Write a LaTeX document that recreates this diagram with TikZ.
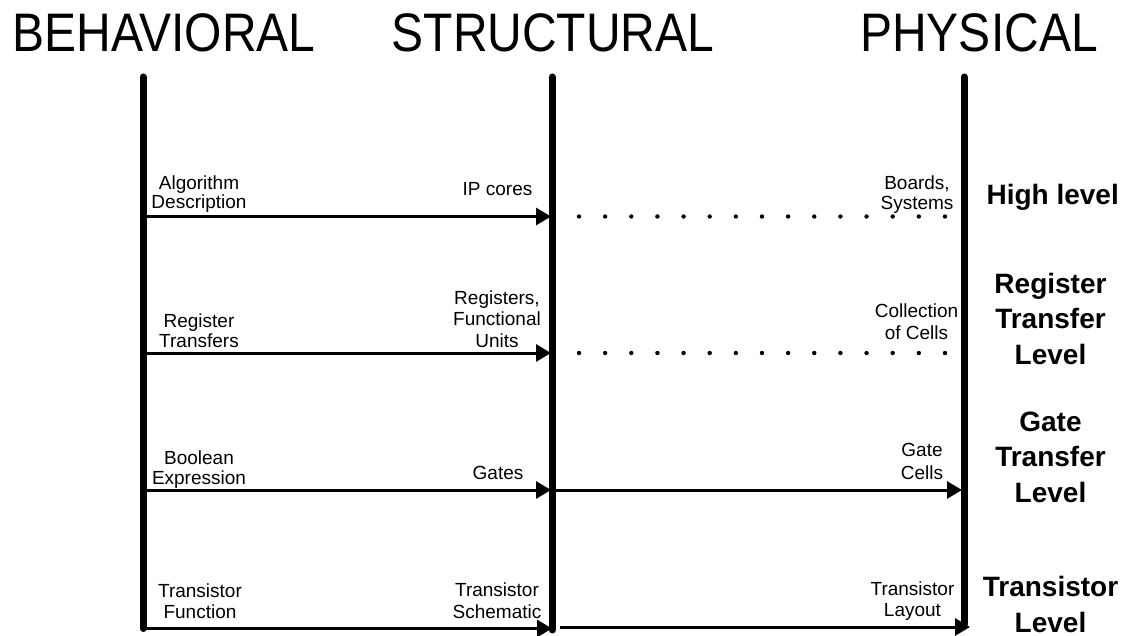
\documentclass[tikz,border=0pt]{standalone}
\usepackage{fontspec}
\setmainfont{Liberation Sans}
\usetikzlibrary{arrows.meta}
\begin{document}
\begin{tikzpicture}[x=1pt,y=-1pt,
  axis/.style={line width=7pt, line cap=round},
  flow/.style={line width=3pt, -{Triangle[length=15pt,width=17pt]}},
  dots/.style={line width=4.4pt, line cap=round, dash pattern=on 0pt off 26.14pt},
  title/.style={font=\fontsize{48}{58}\selectfont, anchor=base, inner sep=0pt},
  lbl/.style={font=\fontsize{19}{#1}\selectfont, align=center, anchor=base, inner sep=0pt},
  lbl/.default=20,
  lvl/.style={font=\fontsize{28}{35.5}\selectfont\bfseries, align=center, anchor=base, inner sep=0pt}]
\useasboundingbox (0,0) rectangle (1131,636);

% column headings
\node[title] (hb) at (164,51.5) {\scalebox{1}[1.13]{BEHAVIORAL}};
\node[title] (hs) at (553,51.5) {\scalebox{1}[1.13]{STRUCTURAL}};
\node[title] (hp) at (979,51.5) {\scalebox{1}[1.13]{PHYSICAL}};

% the three domain axes
\coordinate (btop) at (143,77);  \coordinate (bbot) at (143,628.5);
\coordinate (stop) at (552,77);  \coordinate (sbot) at (552,630);
\coordinate (ptop) at (964,77);  \coordinate (pbot) at (964,624);
\draw[axis] (btop) -- (bbot);
\draw[axis] (stop) -- (sbot);
\draw[axis] (ptop) -- (pbot);

% end points of the level connectors
\coordinate (b1) at (146.5,216.5); \coordinate (s1) at (551,216.5);
\coordinate (d1) at (579,216.5);   \coordinate (p1) at (945.5,216.5);
\coordinate (b2) at (146.5,353);   \coordinate (s2) at (551,353);
\coordinate (d2) at (579,353);     \coordinate (p2) at (945.5,353);
\coordinate (b3) at (146.5,490);   \coordinate (s3) at (551,490);
\coordinate (s3r) at (555.5,490);  \coordinate (p3) at (962,490);
\coordinate (b4) at (143,628.5);   \coordinate (s4) at (552,628.5);
\coordinate (s4r) at (560,627);    \coordinate (p4) at (970,627);

\draw[flow] (b1) -- (s1);
\draw[dots] (d1) -- (p1);
\draw[flow] (b2) -- (s2);
\draw[dots] (d2) -- (p2);
\draw[flow] (b3) -- (s3);
\draw[flow] (s3r) -- (p3);
\draw[flow] (b4) -- (s4);
\draw[flow] (s4r) -- (p4);

% labels are placed by the baseline of their last line
% high level
\node[lbl=19.3] (la1) at (199,209) {Algorithm\\Description};
\node[lbl] (la2) at (497.5,196) {IP cores};
\node[lbl=19.3] (la3) at (917,209.3) {Boards,\\Systems};
\node[lvl] (lv1) at (1052.7,205) {High level};

% register transfer level
\node[lbl] (lb1) at (199,347) {Register\\Transfers};
\node[lbl=21.5] (lb2) at (497,347) {Registers,\\Functional\\Units};
\node[lbl=22.5] (lb3) at (916.5,339.5) {Collection\\of Cells};
\node[lvl] (lv2) at (1050.5,364) {Register\\Transfer\\Level};

% gate transfer level
\node[lbl] (lc1) at (199,484) {Boolean\\Expression};
\node[lbl] (lc2) at (498,479) {Gates};
\node[lbl=22.6] (lc3) at (922,479.3) {Gate\\Cells};
\node[lvl] (lv3) at (1050.5,502) {Gate\\Transfer\\Level};

% transistor level
\node[lbl=21.5] (ld1) at (200,618.5) {Transistor\\Function};
\node[lbl=21.5] (ld2) at (497,618) {Transistor\\Schematic};
\node[lbl=21] (ld3) at (912.5,616.5) {Transistor\\Layout};
\node[lvl] (lv4) at (1050.5,632) {Transistor\\Level};
\end{tikzpicture}
\end{document}
